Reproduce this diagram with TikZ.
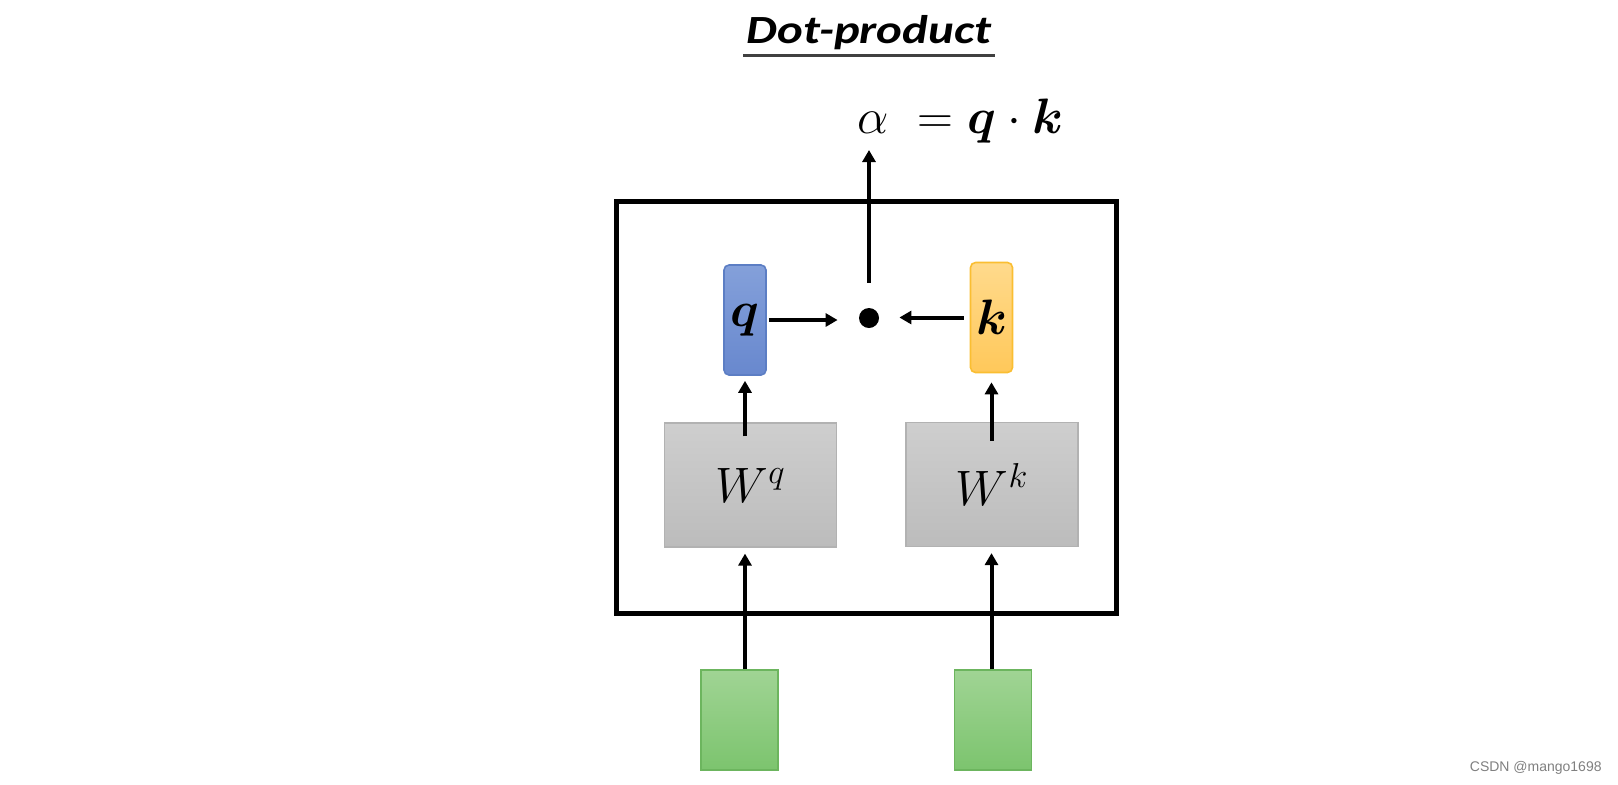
\documentclass[tikz,border=0pt]{standalone}
\usepackage{fontspec}
\usepackage{amsmath,bm}
\usetikzlibrary{arrows.meta}
\newfontfamily\carlito{Carlito}
\newfontfamily\lsans{Liberation Sans}
\definecolor{qtop}{RGB}{132,160,218}
\definecolor{qbot}{RGB}{104,136,206}
\definecolor{qedge}{RGB}{92,126,196}
\definecolor{ktop}{RGB}{255,218,140}
\definecolor{kbot}{RGB}{255,200,90}
\definecolor{kedge}{RGB}{250,190,50}
\definecolor{gtop}{RGB}{206,206,206}
\definecolor{gbot}{RGB}{188,188,188}
\definecolor{gedge}{RGB}{178,178,178}
\definecolor{ntop}{RGB}{160,212,148}
\definecolor{nbot}{RGB}{124,196,110}
\definecolor{nedge}{RGB}{108,181,94}
\definecolor{wm}{RGB}{128,128,128}
\tikzset{
  arr/.style={line width=2pt,-{Triangle[width=6.5pt,length=6pt]}},
  vecbox/.style={rectangle,rounded corners=2.5pt,line width=0.8pt,minimum width=21pt,minimum height=55pt,inner sep=0pt},
  wbox/.style={rectangle,draw=gedge,line width=0.6pt,top color=gtop,bottom color=gbot,minimum width=86pt,minimum height=62pt,inner sep=0pt},
  inbox/.style={rectangle,draw=nedge,line width=0.6pt,top color=ntop,bottom color=nbot,minimum width=38.5pt,minimum height=50pt,inner sep=0pt},
  big/.style={font=\fontsize{25}{30}\selectfont,inner sep=0pt}
}
\begin{document}
\begin{tikzpicture}[x=0.5pt,y=-0.5pt]
\useasboundingbox[fill=white] (0,0) rectangle (1618,784);
% title
\node[inner sep=0pt,anchor=base] (title) at (869,43) {\scalebox{1.22}[1]{\carlito\fontsize{20}{24}\selectfont\bfseries\itshape Dot-product}};
\draw[line width=1.5pt,color=black!75] (743,55) -- (995,55);
% outer box
\node[draw,line width=2.5pt,minimum width=250pt,minimum height=206pt,inner sep=0pt] (outer) at (866,407) {};
% vectors
\node[vecbox,draw=qedge,top color=qtop,bottom color=qbot,big] (q) at (745,320) {$\bm{q}$};
\node[vecbox,draw=kedge,top color=ktop,bottom color=kbot,big] (k) at (991.5,317.5) {$\bm{k}$};
\node[circle,fill=black,minimum size=10pt,inner sep=0pt] (dot) at (869,318) {};
% weight boxes
\node[wbox,big] (Wq) at (750.5,485) {$W^{q}$};
\node[wbox,big] (Wk) at (992,484.5) {$W^{k}$};
% inputs
\node[inbox] (xq) at (739.5,720) {};
\node[inbox] (xk) at (993,720) {};
% formula
\node[big,anchor=base west] (alpha) at (857,133) {$\alpha\ =\bm{q}\cdot\bm{k}$};
\coordinate (atip) at (869,150);
% arrows
\draw[arr,shorten <=1pt,shorten >=10.5pt] (q.east) -- (q.east -| dot.west);
\draw[arr,shorten <=3pt,shorten >=10pt] (k.west) -- (k.west -| dot.east);
\draw[arr,shorten <=12.5pt] (dot.north) -- (atip);
\draw[arr,shorten >=2.5pt] ([yshift=-7pt]Wq.north -| q.south) -- (q.south);
\draw[arr,shorten >=4.5pt] ([yshift=-9.5pt]Wk.north -| k.south) -- (k.south);
\draw[arr,shorten >=3pt] (xq.north -| q.south) -- (Wq.south -| q.south);
\draw[arr,shorten >=3pt] (xk.north -| k.south) -- (Wk.south -| k.south);
% watermark
\node[anchor=base east,inner sep=0pt,text=wm,font=\lsans\fontsize{7}{8}\selectfont] (wmk) at (1602,771) {CSDN @mango1698};
\end{tikzpicture}
\end{document}
